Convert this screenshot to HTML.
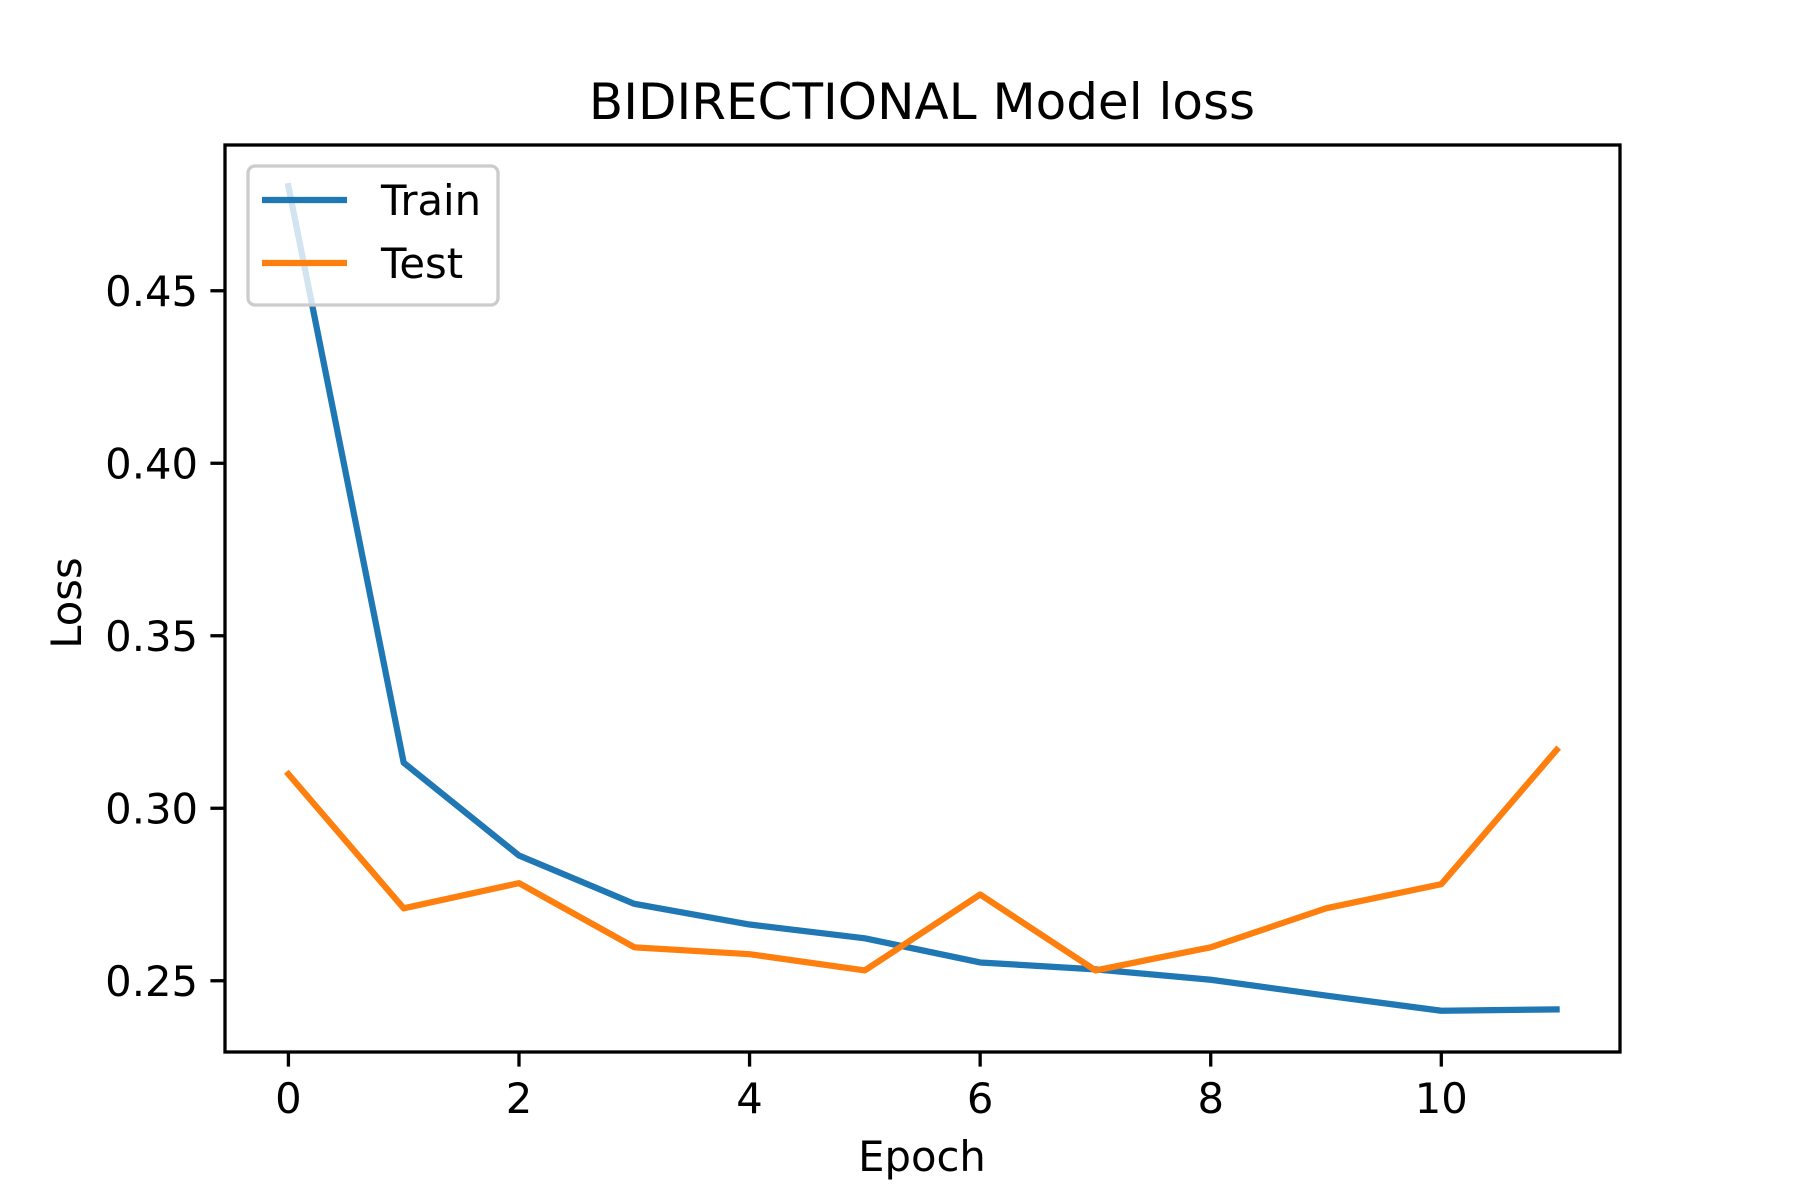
<!DOCTYPE html>
<html><head><meta charset="utf-8"><style>
html,body{margin:0;padding:0;background:#fff;}
svg{display:block;font-family:"DejaVu Sans","Liberation Sans",sans-serif;}
</style></head><body>
<svg id="chart" width="1800" height="1200" viewBox="0 0 1800 1200">
<rect x="0" y="0" width="1800" height="1200" fill="#fff"/>
<text x="922" y="119" font-size="50" text-anchor="middle">BIDIRECTIONAL Model loss</text>
<g id="plot"></g>
<text x="922" y="1171" font-size="41.7" text-anchor="middle">Epoch</text>
<text transform="translate(81,603) rotate(-90)" font-size="41.7" text-anchor="middle">Loss</text>
</svg>
<script>
const epochs = [0,1,2,3,4,5,6,7,8,9,10,11];
const trainLoss = [0.4803,0.3132,0.2863,0.2723,0.2663,0.2623,0.2553,0.2533,0.2503,0.2457,0.2413,0.2417];
const testLoss = [0.3099,0.2710,0.2783,0.2597,0.2577,0.2530,0.2750,0.2530,0.2597,0.2710,0.2780,0.3169];
const xTicks = [0,2,4,6,8,10];
const yTicks = [0.25,0.30,0.35,0.40,0.45];
const yTickLabels = ["0.25","0.30","0.35","0.40","0.45"];
const seriesNames = ["Train","Test"];

const NS="http://www.w3.org/2000/svg";
const L=225,R=1620,T=145,B=1052;
const allX=epochs, allY=trainLoss.concat(testLoss);
const xmin=Math.min(...allX),xmax=Math.max(...allX);
const ymin=Math.min(...allY),ymax=Math.max(...allY);
const xm=(xmax-xmin)*0.05, ym=(ymax-ymin)*0.05;
const x0=xmin-xm,x1=xmax+xm,y0=ymin-ym,y1=ymax+ym;
function sx(v){return L+(v-x0)/(x1-x0)*(R-L);}
function sy(v){return B-(v-y0)/(y1-y0)*(B-T);}
const g=document.getElementById('plot');
function mk(tag,attrs){const e=document.createElementNS(NS,tag);for(const k in attrs)e.setAttribute(k,attrs[k]);return e;}

function drawLine(vals,color,name){
  const pts=epochs.map((e,i)=>sx(e).toFixed(2)+','+sy(vals[i]).toFixed(2)).join(' ');
  const p=mk('polyline',{points:pts,fill:'none',stroke:color,'stroke-width':6.25,'stroke-linejoin':'round','stroke-linecap':'square'});
  
  
  g.appendChild(p);
}
drawLine(trainLoss,'#1f77b4','train-line');
drawLine(testLoss,'#ff7f0e','test-line');

xTicks.forEach(t=>{
  const x=sx(t);
  const tk=mk('line',{x1:x,x2:x,y1:B,y2:B+14.6,stroke:'#000','stroke-width':3.3});
  
  
  g.appendChild(tk);
  const tx=mk('text',{x:x,y:B+61,'font-size':41.7,'text-anchor':'middle'});
  tx.textContent=String(t);
  
  
  g.appendChild(tx);
});
yTicks.forEach((t,i)=>{
  const y=sy(t);
  const tk=mk('line',{x1:L-14.6,x2:L,y1:y,y2:y,stroke:'#000','stroke-width':3.3});
  
  
  g.appendChild(tk);
  const tx=mk('text',{x:L-27,y:y+15,'font-size':41.7,'text-anchor':'end'});
  tx.textContent=yTickLabels[i];
  
  
  g.appendChild(tx);
});
const frame=mk('rect',{x:L,y:T,width:R-L,height:B-T,fill:'none',stroke:'#000','stroke-width':3.3});


g.appendChild(frame);

const lg=mk('g',{});


g.appendChild(lg);
const box=mk('rect',{x:248,y:166,width:250,height:139,rx:7,fill:'#fff','fill-opacity':0.8,stroke:'#ccc','stroke-width':3.3});


lg.appendChild(box);
const cols=['#1f77b4','#ff7f0e'];
seriesNames.forEach((n,i)=>{
  const y=200+i*63;
  const ln=mk('line',{x1:262,x2:347,y1:y,y2:y,stroke:cols[i],'stroke-width':6.25});
  
  
  lg.appendChild(ln);
  const tx=mk('text',{x:381,y:y+15,'font-size':41.7});
  tx.textContent=n;
  
  
  lg.appendChild(tx);
});
</script>
</body></html>
